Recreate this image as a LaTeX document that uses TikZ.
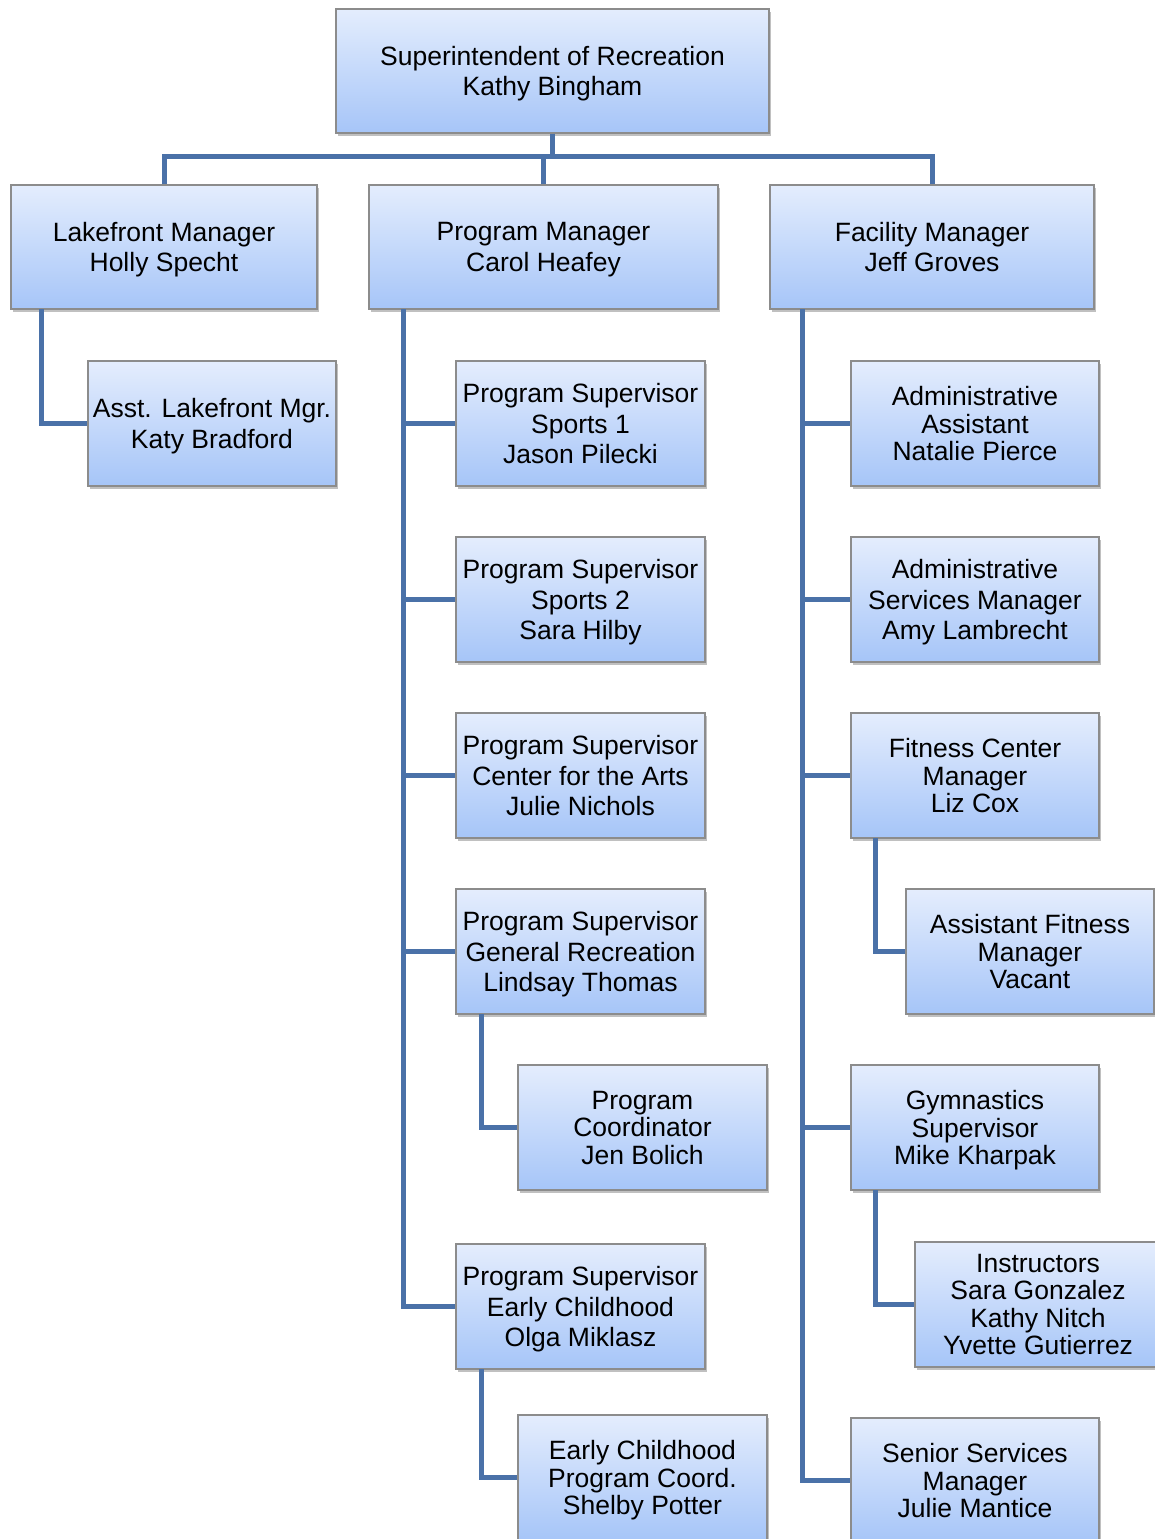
\documentclass[tikz,border=0pt]{standalone}
\usepackage{fontspec}
\setmainfont{Liberation Sans}
\usetikzlibrary{shadows}
\definecolor{boxtop}{HTML}{E4EDFD}
\definecolor{boxbot}{HTML}{A6C5F8}
\definecolor{boxedge}{HTML}{8C8C8C}
\definecolor{conncol}{HTML}{4A71A8}
\begin{document}
\begin{tikzpicture}[x=1pt,y=-1pt,
  box/.style={draw=boxedge, line width=1.2pt, top color=boxtop, bottom color=boxbot,
    drop shadow={shadow xshift=2pt, shadow yshift=-3pt, opacity=0.35, fill=black!70},
    align=center, inner sep=0pt, text depth=0pt, font=\fontsize{26.5}{30.5}\selectfont},
  tight/.style={font=\fontsize{26.5}{27.5}\selectfont},
  sub/.style={minimum width=249pt, minimum height=125pt},
  conn/.style={draw=conncol, line width=5pt}]
\useasboundingbox (0,0) rectangle (1154,1539);
\fill[white] (0,0) rectangle (1154,1539);
% top level
\node[box, minimum width=433pt, minimum height=124pt] (top) at (552.5,71) {Superintendent of Recreation\\Kathy Bingham};
\node[box, minimum width=306pt, minimum height=124pt] (lake) at (164,247) {Lakefront Manager\\Holly Specht};
\node[box, minimum width=349pt, minimum height=124pt] (prog) at (543.5,247) {Program Manager\\Carol Heafey};
\node[box, minimum width=324pt, minimum height=124pt] (fac) at (932,247) {Facility Manager\\Jeff Groves};
% lakefront
\node[box, sub, minimum width=248pt] (asstlake) at (212,423.5) {Asst. Lakefront Mgr.\\Katy Bradford};
% program column
\node[box, sub] (ps1) at (580.5,423.5) {Program Supervisor\\Sports 1\\Jason Pilecki};
\node[box, sub] (ps2) at (580.5,599.5) {Program Supervisor\\Sports 2\\Sara Hilby};
\node[box, sub] (ps3) at (580.5,775.5) {Program Supervisor\\Center for the Arts\\Julie Nichols};
\node[box, sub] (ps4) at (580.5,951.5) {Program Supervisor\\General Recreation\\Lindsay Thomas};
\node[box, sub, tight] (pc) at (642.5,1127.5) {Program\\Coordinator\\Jen Bolich};
\node[box, sub] (ps5) at (580.5,1306.5) {Program Supervisor\\Early Childhood\\Olga Miklasz};
\node[box, sub, tight] (ecc) at (642.5,1477.5) {Early Childhood\\Program Coord.\\Shelby Potter};
% facility column
\node[box, sub, minimum width=248pt, tight] (aa) at (975,423.5) {Administrative\\Assistant\\Natalie Pierce};
\node[box, sub, minimum width=248pt] (asm) at (975,599.5) {Administrative\\Services Manager\\Amy Lambrecht};
\node[box, sub, minimum width=248pt, tight] (fcm) at (975,775.5) {Fitness Center\\Manager\\Liz Cox};
\node[box, sub, minimum width=248pt, tight] (afm) at (1030,951.5) {Assistant Fitness\\Manager\\Vacant};
\node[box, sub, minimum width=248pt, tight] (gym) at (975,1127.5) {Gymnastics\\Supervisor\\Mike Kharpak};
\node[box, sub, minimum width=246pt, tight] (instr) at (1038,1304.5) {Instructors\\Sara Gonzalez\\Kathy Nitch\\Yvette Gutierrez};
\node[box, sub, minimum width=248pt, tight] (ssm) at (975,1480.5) {Senior Services\\Manager\\Julie Mantice};
% connectors: top level
\draw[conn] (top.south) -- ++(0,24);
\draw[conn] (lake.north) -- ++(0,-28) -| (fac.north);
\draw[conn] (prog.north) -- ++(0,-28);
% lakefront
\coordinate (lspine) at (41,309);
\draw[conn] (lspine) |- (asstlake.west);
% program spine
\coordinate (pspine) at (403,309);
\draw[conn] (pspine) |- (ps5.west);
\foreach \n in {ps1,ps2,ps3,ps4} \draw[conn] (pspine |- \n.west) -- (\n.west);
\coordinate (g4) at (481,1014);
\draw[conn] (g4) |- (pc.west);
\coordinate (g5) at (481,1369);
\draw[conn] (g5) |- (ecc.west);
% facility spine
\coordinate (fspine) at (802,309);
\draw[conn] (fspine) |- (ssm.west);
\foreach \n in {aa,asm,fcm,gym} \draw[conn] (fspine |- \n.west) -- (\n.west);
\coordinate (f3) at (875,838);
\draw[conn] (f3) |- (afm.west);
\coordinate (f5) at (875,1190);
\draw[conn] (f5) |- (instr.west);
\end{tikzpicture}
\end{document}
